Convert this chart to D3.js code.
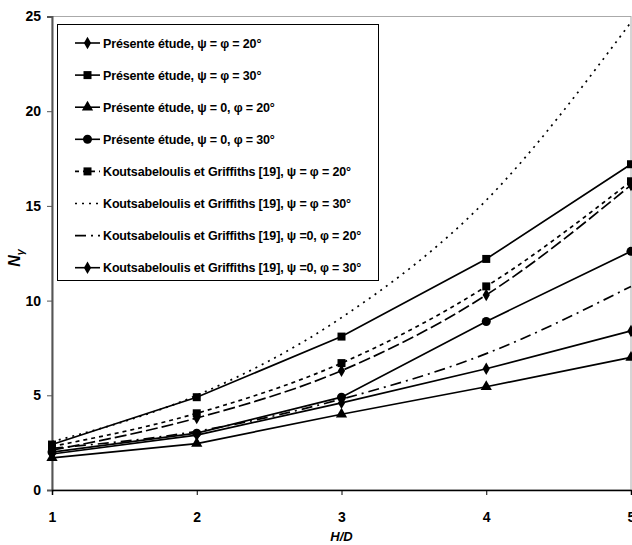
<!DOCTYPE html>
<html>
<head>
<meta charset="utf-8">
<script src="https://cdn.jsdelivr.net/npm/d3@7"></script>
<style>
  body { margin: 0; background: #fff; }
  text { font-family: "Liberation Sans", Arial, sans-serif; font-weight: bold; fill: #000; }
</style>
</head>
<body>
<svg id="chart" width="632" height="545"></svg>
<script>
// H/D values
const hd = [1, 2, 3, 4, 5];

// N_gamma
const presente2020 = [1.9, 2.9, 4.6, 6.4, 8.4];
const presente3030 = [2.4, 4.9, 8.1, 12.2, 17.2];
const presente020 = [1.7, 2.45, 4.0, 5.45, 7.0];
const presente030 = [2.0, 3.0, 4.9, 8.9, 12.6];
const kout2020 = [2.3, 4.05, 6.7, 10.75, 16.3];
const kout3030 = [2.55, 5.0, 9.1, 15.3, 24.7];
const kout020 = [2.2, 3.1, 4.8, 7.2, 10.75];
const kout030 = [2.1, 3.8, 6.3, 10.3, 16.1];

const yTicks = [0, 5, 10, 15, 20, 25];

const series = [
  {name: "Présente étude, ψ = φ = 20°", values: presente2020, marker: "diamond", dash: null, smooth: false},
  {name: "Présente étude, ψ = φ = 30°", values: presente3030, marker: "square", dash: null, smooth: false},
  {name: "Présente étude, ψ = 0, φ = 20°", values: presente020, marker: "triangle", dash: null, smooth: false},
  {name: "Présente étude, ψ = 0, φ = 30°", values: presente030, marker: "circle", dash: null, smooth: false},
  {name: "Koutsabeloulis et Griffiths [19], ψ = φ = 20°", values: kout2020, marker: "square", dash: "4,4", smooth: true},
  {name: "Koutsabeloulis et Griffiths [19], ψ = φ = 30°", values: kout3030, marker: null, dash: "2,5", smooth: true},
  {name: "Koutsabeloulis et Griffiths [19], ψ =0, φ = 20°", values: kout020, marker: null, dash: "11,5,2,5", smooth: true},
  {name: "Koutsabeloulis et Griffiths [19], ψ =0, φ = 30°", values: kout030, marker: "diamond", dash: "12,4", smooth: true, legendSolid: true}
];

const svg = d3.select("#chart");
const plotLeft = 52, plotRight = 631, plotTop = 16.5, plotBottom = 490;

const x = d3.scaleLinear().domain([1, 5]).range([plotLeft, plotRight]);
const y = d3.scaleLinear().domain([0, 25]).range([plotBottom, plotTop]);

// plot frame
svg.append("rect")
  .attr("x", plotLeft).attr("y", plotTop)
  .attr("width", plotRight - plotLeft).attr("height", plotBottom - plotTop)
  .attr("fill", "none").attr("stroke", "#aaa").attr("stroke-width", 1);

// y axis
const yAxis = svg.append("g")
  .attr("transform", `translate(${plotLeft},0)`)
  .call(d3.axisLeft(y).tickValues(yTicks).tickSize(5).tickPadding(6).tickFormat(d3.format("d")));
yAxis.select(".domain").attr("stroke", "#555").attr("stroke-width", 2);
yAxis.selectAll(".tick line").attr("stroke", "#555");
yAxis.selectAll("text").style("font-size", "14px").style("font-weight", "bold");

// x axis
const xAxis = svg.append("g")
  .attr("transform", `translate(0,${plotBottom})`)
  .call(d3.axisBottom(x).tickValues(hd).tickSize(5).tickPadding(17).tickFormat(d3.format("d")));
xAxis.select(".domain").attr("stroke", "#000").attr("stroke-width", 1.5);
xAxis.selectAll("text").style("font-size", "14px").style("font-weight", "bold");

svg.append("text")
  .attr("x", (plotLeft + plotRight) / 2).attr("y", 541)
  .attr("text-anchor", "middle")
  .style("font-size", "13px").style("font-style", "italic")
  .text("H/D");

const yl = svg.append("text")
  .attr("transform", `translate(20,258) rotate(-90)`)
  .attr("text-anchor", "middle")
  .style("font-size", "16px").style("font-style", "italic");
yl.append("tspan").text("N");
yl.append("tspan").attr("dy", 4).style("font-size", "11px").text("γ");

const symbols = {
  diamond: d3.symbol().type(d3.symbolDiamond).size(45),
  square: d3.symbol().type(d3.symbolSquare).size(64),
  triangle: d3.symbol().type(d3.symbolTriangle).size(55),
  circle: d3.symbol().type(d3.symbolCircle).size(64)
};

const plot = svg.append("g");

series.forEach(s => {
  const pts = hd.map((h, i) => [h, s.values[i]]);
  const line = d3.line()
    .x(d => x(d[0])).y(d => y(d[1]))
    .curve(s.smooth ? d3.curveMonotoneX : d3.curveLinear);
  plot.append("path")
    .attr("d", line(pts))
    .attr("fill", "none").attr("stroke", "#000").attr("stroke-width", 1.7)
    .attr("stroke-dasharray", s.dash);
  if (s.marker) {
    plot.selectAll(null).data(pts).enter().append("path")
      .attr("d", symbols[s.marker])
      .attr("transform", d => `translate(${x(d[0])},${y(d[1])})`)
      .attr("fill", "#000");
  }
});

// legend
const lg = svg.append("g");
lg.append("rect")
  .attr("x", 57.5).attr("y", 24.5).attr("width", 321).attr("height", 256)
  .attr("fill", "#fff").attr("stroke", "#000").attr("stroke-width", 1);

series.forEach((s, i) => {
  const ry = 43 + i * 32.1;
  lg.append("line")
    .attr("x1", 75).attr("x2", 100).attr("y1", ry).attr("y2", ry)
    .attr("stroke", "#000").attr("stroke-width", 1.6)
    .attr("stroke-dasharray", s.legendSolid ? null : s.dash);
  if (s.marker) {
    lg.append("path")
      .attr("d", symbols[s.marker])
      .attr("transform", `translate(87.5,${ry})`)
      .attr("fill", "#000");
  }
  lg.append("text")
    .attr("x", 103).attr("y", ry + 4.5)
    .style("font-size", "12.5px")
    .style("letter-spacing", "-0.15px")
    .text(s.name);
});
</script>
</body>
</html>
